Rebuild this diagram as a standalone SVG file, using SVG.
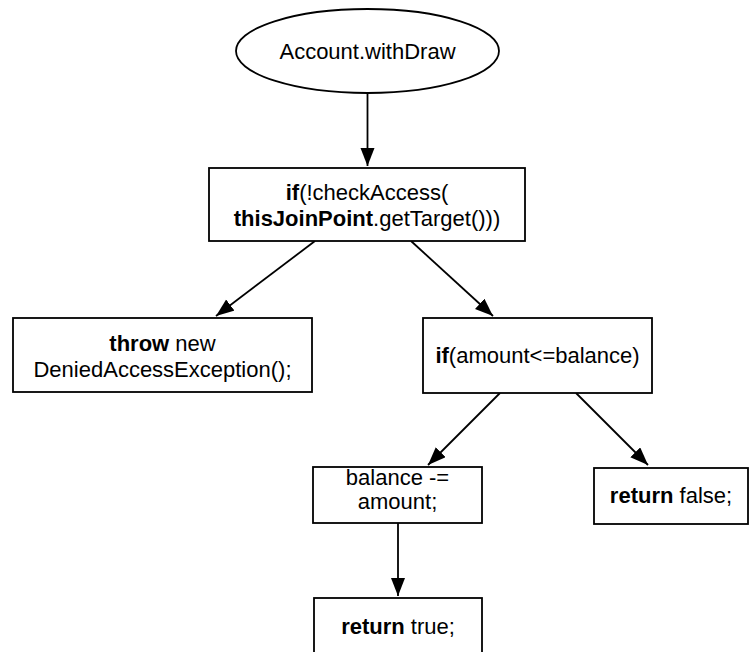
<svg xmlns="http://www.w3.org/2000/svg" width="751" height="652" viewBox="0 0 751 652">
<defs>
<style>
.n{fill:#fff;stroke:#000;stroke-width:1.8}
.t{font-family:"Liberation Sans",Arial,Helvetica,sans-serif;font-size:22px;fill:#000;text-anchor:middle}
.b{font-weight:bold}
.c{stroke:#000;stroke-width:1.8;fill:none;marker-end:url(#ah)}
</style>
<marker id="ah" markerUnits="userSpaceOnUse" markerWidth="19" markerHeight="15" refX="18" refY="7" orient="auto">
<path d="M0,0 L18,7 L0,14 z" fill="#000"/>
</marker>
</defs>
<rect width="751" height="652" fill="#fff"/>
<g id="connectors">
<line class="c" x1="367.5" y1="93" x2="367.5" y2="166"/>
<line class="c" x1="315" y1="241" x2="216" y2="316"/>
<line class="c" x1="411" y1="241" x2="493" y2="316"/>
<line class="c" x1="500" y1="393" x2="428" y2="465"/>
<line class="c" x1="576" y1="393" x2="648" y2="465"/>
<line class="c" x1="398" y1="523" x2="398" y2="596"/>
</g>
<g id="start">
<ellipse class="n" cx="367.5" cy="51" rx="131.5" ry="42"/>
<text class="t" x="367.5" y="59">Account.withDraw</text>
</g>
<g id="checkAccess">
<rect class="n" x="209" y="168" width="316" height="73"/>
<text class="t" x="367" y="200"><tspan class="b">if</tspan>(!checkAccess(</text>
<text class="t" x="367" y="226"><tspan class="b">thisJoinPoint</tspan>.getTarget()))</text>
</g>
<g id="throw">
<rect class="n" x="13" y="318" width="299" height="74"/>
<text class="t" x="162.5" y="351"><tspan class="b">throw</tspan> new</text>
<text class="t" x="162.5" y="377">DeniedAccessException();</text>
</g>
<g id="ifAmount">
<rect class="n" x="423" y="318" width="229" height="75"/>
<text class="t" x="537.5" y="363"><tspan class="b">if</tspan>(amount&lt;=balance)</text>
</g>
<g id="subtract">
<rect class="n" x="313" y="467" width="169" height="56"/>
<text class="t" x="397.5" y="485">balance -=</text>
<text class="t" x="397.5" y="509">amount;</text>
</g>
<g id="returnFalse">
<rect class="n" x="594" y="468" width="154" height="56"/>
<text class="t" x="671" y="503"><tspan class="b">return</tspan> false;</text>
</g>
<g id="returnTrue">
<rect class="n" x="314" y="598" width="168" height="62"/>
<text class="t" x="398" y="634"><tspan class="b">return</tspan> true;</text>
</g>
</svg>
